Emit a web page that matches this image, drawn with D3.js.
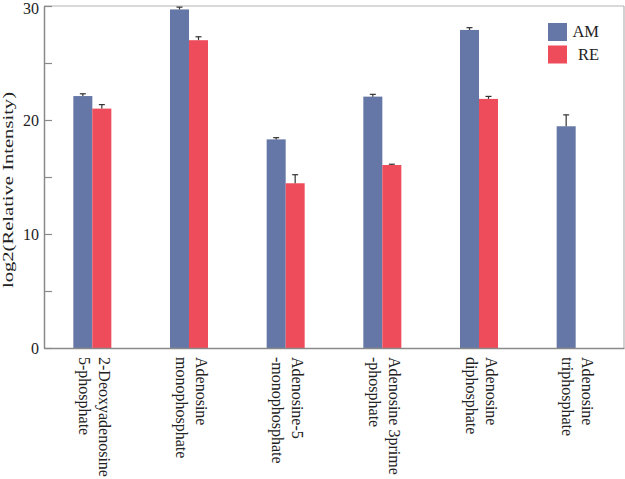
<!DOCTYPE html>
<html>
<head>
<meta charset="utf-8">
<script src="https://cdn.jsdelivr.net/npm/d3@7"></script>
<style>
  html, body { margin: 0; padding: 0; background: #fff; }
  svg { display: block; font-family: "Liberation Serif", "Times New Roman", serif; }
</style>
</head>
<body>
<svg id="chart" width="625" height="479"></svg>
<script>
// ---- data ----
const categories = [
  ["2-Deoxyadenosine", "5-phosphate"],
  ["Adenosine", "monophosphate"],
  ["Adenosine-5", "-monophosphate"],
  ["Adenosine 3prime", "-phosphate"],
  ["Adenosine", "diphosphate"],
  ["Adenosine", "triphosphate"]
];
const seriesNames = ["AM", "RE"];
const amValues = [22.1, 29.7, 18.3, 22.05, 27.9, 19.45];
const amErrors = [0.2, 0.2, 0.15, 0.2, 0.2, 1.0];
const reValues = [21.0, 27.0, 14.45, 16.05, 21.85, null];
const reErrors = [0.35, 0.3, 0.75, 0.07, 0.22, null];
const yTicks = [0, 5, 10, 15, 20, 25, 30];
const yLabel = "log2(Relative Intensity)";

// ---- layout ----
const plotLeft = 44, plotRight = 624, plotTop = 6, plotBottom = 348;
const colors = { AM: "#6477a6", RE: "#ee4b5b" };
const fontFam = "'Liberation Serif', 'Times New Roman', serif";

const svg = d3.select("#chart");

const x0 = d3.scaleBand()
  .domain(d3.range(categories.length))
  .range([plotLeft, plotRight])
  .padding(0);
const x1 = d3.scaleBand()
  .domain(seriesNames)
  .range([-19, 19])
  .padding(0);
const y = d3.scaleLinear().domain([0, 30]).range([plotBottom, plotTop]);

// frame (top and right)
svg.append("line").attr("x1", plotLeft).attr("x2", plotRight).attr("y1", plotTop).attr("y2", plotTop)
  .attr("stroke", "#b4b4b4").attr("stroke-width", 1.2);
svg.append("line").attr("x1", plotRight).attr("x2", plotRight).attr("y1", plotTop).attr("y2", plotBottom)
  .attr("stroke", "#b4b4b4").attr("stroke-width", 1.2);

// data rows
const rows = categories.map((c, i) => ({
  i,
  bars: [
    { s: "AM", v: amValues[i], e: amErrors[i] },
    { s: "RE", v: reValues[i], e: reErrors[i] }
  ].filter(b => b.v != null)
}));

const g = svg.append("g").selectAll("g").data(rows).join("g")
  .attr("transform", d => `translate(${x0(d.i) + x0.bandwidth() / 2},0)`);

g.selectAll("rect").data(d => d.bars).join("rect")
  .attr("x", d => x1(d.s))
  .attr("width", x1.bandwidth())
  .attr("y", d => y(d.v))
  .attr("height", d => y(0) - y(d.v))
  .attr("fill", d => colors[d.s]);

// error bars (upper only)
const eb = g.selectAll("g.err").data(d => d.bars).join("g").attr("class", "err");
eb.append("line")
  .attr("x1", d => x1(d.s) + x1.bandwidth() / 2)
  .attr("x2", d => x1(d.s) + x1.bandwidth() / 2)
  .attr("y1", d => y(d.v))
  .attr("y2", d => y(d.v + d.e))
  .attr("stroke", "#333").attr("stroke-width", 1.2);
eb.append("line")
  .attr("x1", d => x1(d.s) + x1.bandwidth() / 2 - 3)
  .attr("x2", d => x1(d.s) + x1.bandwidth() / 2 + 3)
  .attr("y1", d => y(d.v + d.e))
  .attr("y2", d => y(d.v + d.e))
  .attr("stroke", "#333").attr("stroke-width", 1.2);

// y axis
const yAxis = d3.axisLeft(y)
  .tickValues(yTicks)
  .tickFormat(d => (d % 10 === 0 ? d : ""))
  .tickSizeInner(-8)
  .tickSizeOuter(0)
  .tickPadding(5);
const ya = svg.append("g").attr("transform", `translate(${plotLeft},0)`).call(yAxis);
ya.select(".domain").attr("stroke", "#8a8a8a").attr("stroke-width", 1.5);
ya.selectAll(".tick line").attr("stroke", "#8a8a8a").attr("stroke-width", 1.2);
ya.selectAll(".tick text")
  .attr("font-family", fontFam)
  .attr("font-size", 16).attr("fill", "#222")
  .attr("dy", d => (d === 30 ? "0.45em" : "0.32em"));

// x axis line
const xAxis = d3.axisBottom(x0).tickSize(0).tickFormat("");
const xa = svg.append("g").attr("transform", `translate(0,${plotBottom})`).call(xAxis);
xa.select(".domain").attr("stroke", "#8a8a8a").attr("stroke-width", 1.5);

// category labels (rotated 90deg)
const lbl = svg.append("g").selectAll("text").data(categories).join("text")
  .attr("transform", (d, i) => `translate(${x0(i) + x0.bandwidth() / 2},357) rotate(90)`)
  .attr("font-family", fontFam)
  .attr("font-size", 16).attr("fill", "#222").attr("text-anchor", "start");
lbl.selectAll("tspan").data(d => d).join("tspan")
  .attr("x", 0)
  .attr("y", (d, j) => (j === 0 ? -6.5 : 13.5))
  .text(d => d);

// y label
svg.append("text")
  .attr("transform", "translate(12.5,190) rotate(-90)")
  .attr("text-anchor", "middle")
  .attr("font-family", fontFam)
  .attr("font-size", 15)
  .attr("fill", "#222")
  .attr("textLength", 196)
  .attr("lengthAdjust", "spacingAndGlyphs")
  .text(yLabel);

// legend
const legend = svg.append("g").selectAll("g").data(seriesNames).join("g")
  .attr("transform", (d, i) => `translate(548,${23 + i * 22.5})`);
legend.append("rect").attr("width", 19).attr("height", 18).attr("fill", d => colors[d]);
legend.append("text")
  .attr("x", 51).attr("y", (d, i) => 14 + i * 0.5)
  .attr("text-anchor", "end")
  .attr("font-family", fontFam)
  .attr("font-size", 16.5).attr("fill", "#222")
  .text(d => d);
</script>
</body>
</html>
